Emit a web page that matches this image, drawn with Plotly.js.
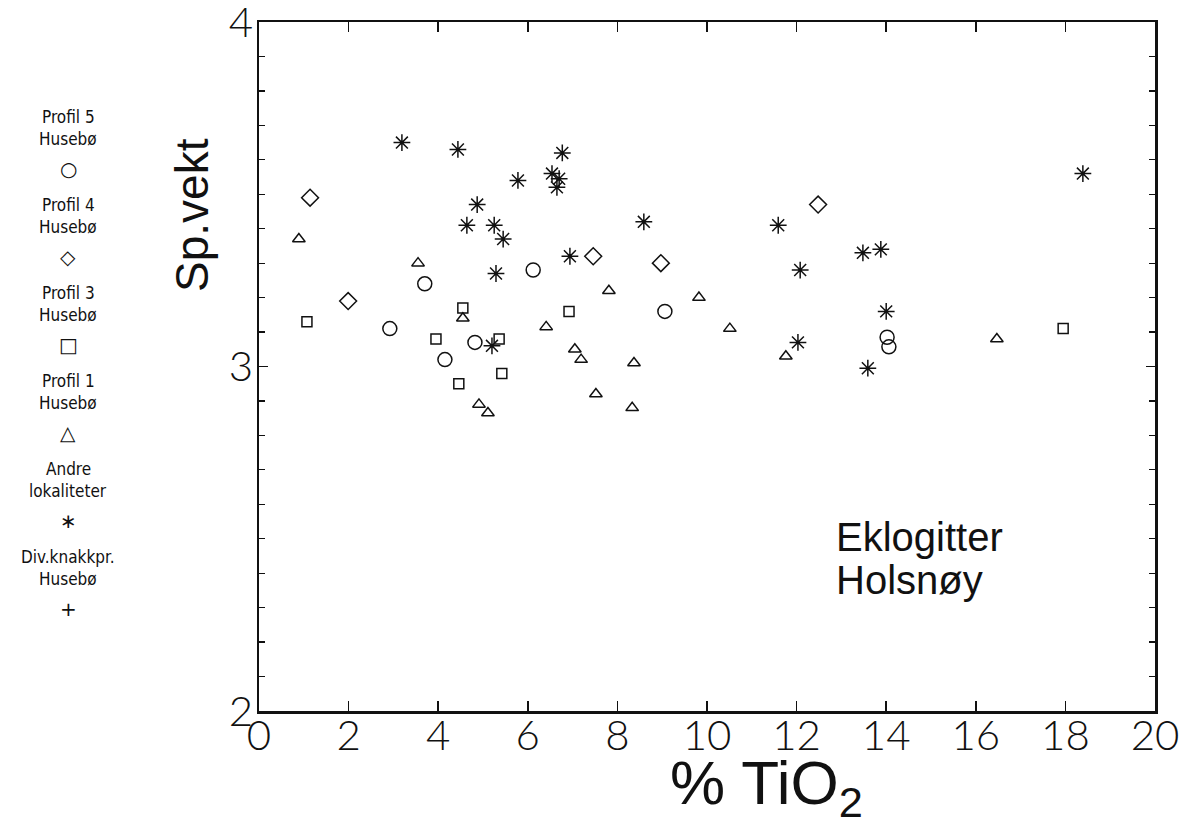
<!DOCTYPE html>
<html>
<head>
<meta charset="utf-8">
<script src="https://cdn.plot.ly/plotly-3.0.1.min.js"></script>
<style>html,body{margin:0;padding:0;background:#fff;}#chart{width:1186px;height:820px;}</style>
</head>
<body>
<div id="chart"></div>
<script>
// ---- Data ----
const profil5X = [2.92, 3.70, 4.15, 4.82, 6.12, 9.06, 14.02, 14.06];
const profil5Y = [3.11, 3.24, 3.02, 3.07, 3.28, 3.16, 3.085, 3.057];

const profil4X = [1.14, 1.99, 7.46, 8.97, 12.48];
const profil4Y = [3.49, 3.19, 3.32, 3.30, 3.47];

const profil3X = [1.07, 3.95, 4.55, 4.46, 5.36, 5.42, 6.92, 17.95];
const profil3Y = [3.13, 3.08, 3.17, 2.95, 3.08, 2.98, 3.16, 3.11];

const profil1X = [0.89, 3.55, 4.55, 4.91, 5.11, 6.41, 7.81, 7.05, 7.19, 8.37, 7.52, 8.33, 9.82, 10.51, 11.76, 16.47];
const profil1Y = [3.37, 3.30, 3.14, 2.89, 2.865, 3.115, 3.22, 3.05, 3.02, 3.01, 2.92, 2.88, 3.20, 3.11, 3.03, 3.08];

const andreX = [3.19, 4.44, 4.87, 4.64, 5.25, 5.45, 5.29, 5.20, 5.78, 6.77, 6.54, 6.70, 6.65, 8.59, 6.94, 11.59, 12.08, 12.03, 13.48, 13.88, 14.00, 13.59, 18.39];
const andreY = [3.65, 3.63, 3.47, 3.41, 3.41, 3.37, 3.27, 3.06, 3.54, 3.62, 3.56, 3.545, 3.52, 3.42, 3.32, 3.41, 3.28, 3.07, 3.33, 3.34, 3.16, 2.995, 3.56];

const xTicks = [0, 2, 4, 6, 8, 10, 12, 14, 16, 18, 20];
const yTicks = [2, 3, 4];

const legendEntries = [
  {lines: ["Profil 5", "Husebø"], symbol: "○"},
  {lines: ["Profil 4", "Husebø"], symbol: "◇"},
  {lines: ["Profil 3", "Husebø"], symbol: "□"},
  {lines: ["Profil 1", "Husebø"], symbol: "△"},
  {lines: ["Andre", "lokaliteter"], symbol: "∗"},
  {lines: ["Div.knakkpr.", "Husebø"], symbol: "+"}
];

// ---- Layout helpers (pixel -> paper) ----
const L = 259, R = 31, T = 22, B = 109, W = 1186, H = 820;
const pw = W - L - R, ph = H - T - B;
const px = x => (x - L) / pw;
const py = y => (H - B - y) / ph;

const ink = '#111';
function tr(x, y, sym, size) {
  return {x: x, y: y, type: 'scatter', mode: 'markers', showlegend: false, hoverinfo: 'skip',
    marker: {symbol: sym, size: size, color: ink, line: {color: ink, width: 1.5}}};
}
const data = [
  tr(profil5X, profil5Y, 'circle-open', 14),
  tr(profil4X, profil4Y, 'diamond-open', 13),
  tr(profil3X, profil3Y, 'square-open', 10),
  tr(profil1X, profil1Y, 'triangle-up-open', 11),
  tr(andreX, andreY, 'asterisk-open', 14)
];

const annotations = [];
const legFont = {family: 'Liberation Sans Narrow, DejaVu Sans Condensed, sans-serif', size: 17, color: ink};
const legendStart = 117, legendStep = 88;
legendEntries.forEach((e, i) => {
  const base = legendStart + i * legendStep;
  annotations.push({xref: 'paper', yref: 'paper', x: px(68), y: py(base), text: e.lines[0], showarrow: false, xanchor: 'center', yanchor: 'middle', font: legFont});
  annotations.push({xref: 'paper', yref: 'paper', x: px(68), y: py(base + 22), text: e.lines[1], showarrow: false, xanchor: 'center', yanchor: 'middle', font: legFont});
  annotations.push({xref: 'paper', yref: 'paper', x: px(68), y: py(base + 52), text: e.symbol, showarrow: false, xanchor: 'center', yanchor: 'middle', font: {family: 'DejaVu Sans', size: 20, color: ink}});
});
annotations.push({xref: 'paper', yref: 'paper', x: px(192), y: py(215), text: 'Sp.vekt', textangle: -90, showarrow: false,
  xanchor: 'center', yanchor: 'middle', font: {family: 'Liberation Sans, Arial, sans-serif', size: 46, color: ink}});
annotations.push({xref: 'paper', yref: 'paper', x: px(766), y: py(787), text: '% TiO<sub>2</sub>', showarrow: false,
  xanchor: 'center', yanchor: 'middle', font: {family: 'Liberation Sans, Arial, sans-serif', size: 62, color: ink}});
annotations.push({xref: 'paper', yref: 'paper', x: px(834), y: py(537), text: 'Eklogitter', showarrow: false, align: 'left',
  xanchor: 'left', yanchor: 'middle', font: {family: 'Liberation Sans, Arial, sans-serif', size: 40, color: ink}});
annotations.push({xref: 'paper', yref: 'paper', x: px(834), y: py(580), text: 'Holsnøy', showarrow: false, align: 'left',
  xanchor: 'left', yanchor: 'middle', font: {family: 'Liberation Sans, Arial, sans-serif', size: 40, color: ink}});

const tickFont = {family: 'Lato, Liberation Sans, sans-serif', size: 42, color: ink, weight: 300};
const layout = {
  width: W, height: H,
  margin: {l: L, r: R, t: T, b: B},
  paper_bgcolor: '#fff', plot_bgcolor: '#fff',
  showlegend: false,
  xaxis: {range: [0, 20], tickvals: xTicks, ticktext: xTicks.map(String), ticks: 'inside', ticklen: 10, tickwidth: 1.5, tickcolor: ink,
    showline: true, linewidth: 2.5, linecolor: ink, mirror: 'ticks', showgrid: false, zeroline: false, tickfont: tickFont,
    ticklabelstandoff: -14, ticklabeloverflow: 'allow'},
  yaxis: {range: [2, 4], tickvals: yTicks, ticktext: yTicks.map(String), ticks: 'inside', ticklen: 9, tickwidth: 1.5, tickcolor: ink,
    minor: {dtick: 0.1, tick0: 2, ticks: 'inside', ticklen: 6, tickwidth: 1.2, tickcolor: ink, showgrid: false},
    showline: true, linewidth: 2.5, linecolor: ink, mirror: 'ticks', showgrid: false, zeroline: false, tickfont: tickFont,
    ticklabelstandoff: -5, ticklabeloverflow: 'allow'},
  annotations: annotations
};
Plotly.newPlot('chart', data, layout, {displayModeBar: false, staticPlot: true});
</script>
</body>
</html>
